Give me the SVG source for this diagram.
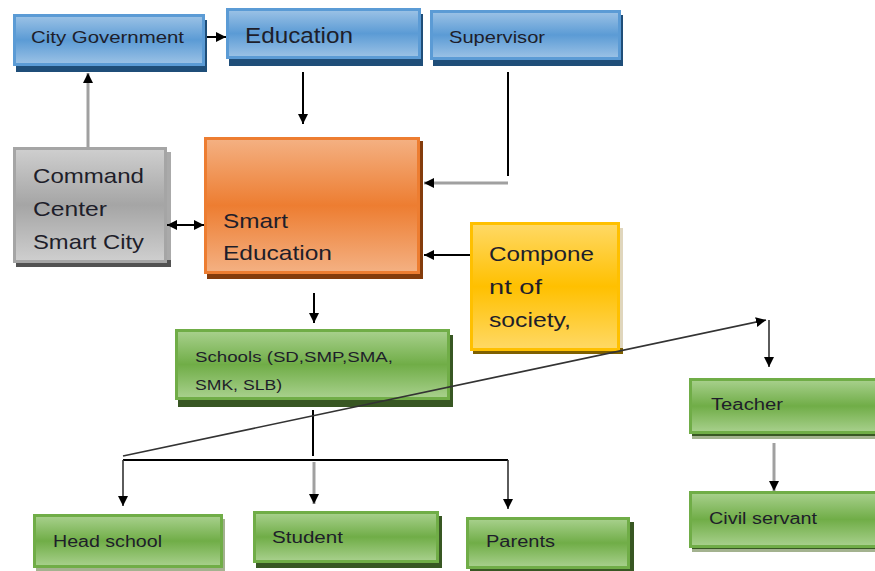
<svg xmlns="http://www.w3.org/2000/svg" width="875" height="571" viewBox="0 0 875 571">
<style>
  .t { font-family: "Liberation Sans", Arial, sans-serif; fill: #1e1e2a; }
  .b { stroke: #5b9bd5; stroke-width: 3; fill: url(#gBlue); }
  .o { stroke: #ed7d31; stroke-width: 3; fill: url(#gOrange); }
  .g { stroke: #a5a5a5; stroke-width: 3; fill: url(#gGray); }
  .y { stroke: #ffc000; stroke-width: 3; fill: url(#gYellow); }
  .gr { stroke: #70ad47; stroke-width: 3; fill: url(#gGreen); }
  .ln { stroke: #000; stroke-width: 2; fill: none; }
  .lg { stroke: #a0a0a0; stroke-width: 3; fill: none; }
  .ld { stroke: #333; stroke-width: 1.6; fill: none; }
</style>
<defs>
  <linearGradient id="gBlue" x1="0" y1="0" x2="0" y2="1">
    <stop offset="0" stop-color="#9dc3e6"/><stop offset="0.5" stop-color="#5b9bd5"/><stop offset="1" stop-color="#9dc3e6"/>
  </linearGradient>
  <linearGradient id="gOrange" x1="0" y1="0" x2="0" y2="1">
    <stop offset="0" stop-color="#f4b183"/><stop offset="0.5" stop-color="#ed7d31"/><stop offset="1" stop-color="#f4b183"/>
  </linearGradient>
  <linearGradient id="gGray" x1="0" y1="0" x2="0" y2="1">
    <stop offset="0" stop-color="#cfcfcf"/><stop offset="0.5" stop-color="#a5a5a5"/><stop offset="1" stop-color="#cfcfcf"/>
  </linearGradient>
  <linearGradient id="gYellow" x1="0" y1="0" x2="0" y2="1">
    <stop offset="0" stop-color="#ffd966"/><stop offset="0.5" stop-color="#ffc000"/><stop offset="1" stop-color="#ffd966"/>
  </linearGradient>
  <linearGradient id="gGreen" x1="0" y1="0" x2="0" y2="1">
    <stop offset="0" stop-color="#a9d18e"/><stop offset="0.5" stop-color="#70ad47"/><stop offset="1" stop-color="#a9d18e"/>
  </linearGradient>
  <marker id="ah" viewBox="0 0 10 10" refX="10" refY="5" markerWidth="10" markerHeight="10" markerUnits="userSpaceOnUse" orient="auto-start-reverse">
    <path d="M0,0 L10,5 L0,10 z" fill="#000"/>
  </marker>
</defs>

<g id="city-government">
  <rect x="16" y="20" width="191" height="52" fill="#1f4e79"/>
  <rect class="b" x="14.5" y="15.5" width="189" height="49"/>
  <text class="t" x="31" y="43" font-size="17" textLength="153" lengthAdjust="spacingAndGlyphs">City Government</text>
</g>
<g id="education">
  <rect x="229" y="14" width="194" height="52" fill="#1f4e79"/>
  <rect class="b" x="227.5" y="9.5" width="192" height="48"/>
  <text class="t" x="245" y="43" font-size="22" textLength="108" lengthAdjust="spacingAndGlyphs">Education</text>
</g>
<g id="supervisor">
  <rect x="433" y="15" width="190" height="51" fill="#1f4e79"/>
  <rect class="b" x="431.5" y="11.5" width="188" height="47"/>
  <text class="t" x="449" y="43" font-size="17" textLength="96" lengthAdjust="spacingAndGlyphs">Supervisor</text>
</g>
<g id="command-center">
  <rect x="16" y="152" width="155" height="115" fill="#525252"/>
  <rect x="16" y="152" width="155" height="108" fill="#aaaaaa"/>
  <rect class="g" x="14.5" y="148.5" width="151" height="113"/>
  <text class="t" x="33" y="183" font-size="21" textLength="111" lengthAdjust="spacingAndGlyphs">Command</text>
  <text class="t" x="33" y="216" font-size="21" textLength="74" lengthAdjust="spacingAndGlyphs">Center</text>
  <text class="t" x="33" y="249" font-size="21" textLength="111" lengthAdjust="spacingAndGlyphs">Smart City</text>
</g>
<g id="smart-education">
  <rect x="207" y="141" width="216" height="138" fill="#843c0c"/>
  <rect class="o" x="205.5" y="138.5" width="213" height="134"/>
  <text class="t" x="223" y="228" font-size="21" textLength="65" lengthAdjust="spacingAndGlyphs">Smart</text>
  <text class="t" x="223" y="260" font-size="21" textLength="109" lengthAdjust="spacingAndGlyphs">Education</text>
</g>
<g id="component-of-society">
  <rect x="473" y="228" width="150" height="126" fill="#e0d6bd"/>
  <rect x="473" y="348" width="150" height="6" fill="#7f6000"/>
  <rect class="y" x="471.5" y="223.5" width="147" height="126"/>
  <text class="t" x="489" y="261" font-size="21" textLength="105" lengthAdjust="spacingAndGlyphs">Compone</text>
  <text class="t" x="489" y="294" font-size="21" textLength="53" lengthAdjust="spacingAndGlyphs">nt of</text>
  <text class="t" x="489" y="327" font-size="21" textLength="82" lengthAdjust="spacingAndGlyphs">society,</text>
</g>
<g id="schools">
  <rect x="178" y="335" width="275" height="72" fill="#385723"/>
  <rect class="gr" x="176.5" y="330.5" width="272" height="68"/>
  <text class="t" x="195" y="362" font-size="15" textLength="198" lengthAdjust="spacingAndGlyphs">Schools (SD,SMP,SMA,</text>
  <text class="t" x="195" y="390" font-size="15" textLength="87" lengthAdjust="spacingAndGlyphs">SMK, SLB)</text>
</g>
<g id="head-school">
  <rect x="36" y="519" width="189" height="52" fill="#a3b28f"/>
  <rect class="gr" x="34.5" y="515.5" width="187" height="51"/>
  <text class="t" x="53" y="547" font-size="16" textLength="109" lengthAdjust="spacingAndGlyphs">Head school</text>
</g>
<g id="student">
  <rect x="256" y="516" width="186" height="52" fill="#385723"/>
  <rect class="gr" x="254.5" y="512.5" width="183" height="49"/>
  <text class="t" x="272" y="543" font-size="16" textLength="71" lengthAdjust="spacingAndGlyphs">Student</text>
</g>
<g id="parents">
  <rect x="470" y="522" width="164" height="50" fill="#385723"/>
  <rect class="gr" x="467.5" y="518.5" width="161" height="49"/>
  <text class="t" x="486" y="547" font-size="16" textLength="69" lengthAdjust="spacingAndGlyphs">Parents</text>
</g>
<g id="teacher">
  <rect x="692" y="381" width="185" height="58" fill="#a3b28f"/>
  <rect x="692" y="381" width="185" height="55" fill="#385723"/>
  <rect class="gr" x="690.5" y="379.5" width="186" height="53"/>
  <text class="t" x="711" y="410" font-size="16" textLength="72" lengthAdjust="spacingAndGlyphs">Teacher</text>
</g>
<g id="civil-servant">
  <rect x="692" y="494" width="185" height="58" fill="#a3b28f"/>
  <rect x="692" y="494" width="185" height="55" fill="#385723"/>
  <rect class="gr" x="690.5" y="492.5" width="186" height="54"/>
  <text class="t" x="709" y="524" font-size="16" textLength="108" lengthAdjust="spacingAndGlyphs">Civil servant</text>
</g>

<g id="connectors">
  <line class="ln" x1="207" y1="37" x2="226" y2="37" marker-end="url(#ah)"/>
  <line class="ln" x1="303" y1="72" x2="303" y2="124" marker-end="url(#ah)"/>
  <line class="lg" x1="88" y1="147" x2="88" y2="73" marker-end="url(#ah)"/>
  <line class="ln" x1="167" y1="225" x2="204" y2="225" marker-start="url(#ah)" marker-end="url(#ah)"/>
  <line class="ln" x1="508" y1="72" x2="508" y2="176"/>
  <line class="lg" x1="508" y1="183" x2="424" y2="183" marker-end="url(#ah)"/>
  <line class="ln" x1="470" y1="255" x2="424" y2="255" marker-end="url(#ah)"/>
  <line class="ln" x1="314" y1="293" x2="314" y2="323" marker-end="url(#ah)"/>
  <line class="ln" x1="313" y1="410" x2="313" y2="456"/>
  <line class="ln" x1="123" y1="460" x2="508" y2="460"/>
  <line class="ld" x1="123" y1="460" x2="123" y2="506" marker-end="url(#ah)"/>
  <line class="lg" x1="314" y1="462" x2="314" y2="504" marker-end="url(#ah)"/>
  <line class="ld" x1="508" y1="460" x2="508" y2="509" marker-end="url(#ah)"/>
  <line class="ld" x1="123" y1="456" x2="766" y2="320" marker-end="url(#ah)"/>
  <line class="ld" x1="769" y1="320" x2="769" y2="367" marker-end="url(#ah)"/>
  <line class="lg" x1="774" y1="443" x2="774" y2="491" marker-end="url(#ah)"/>
</g>
</svg>
